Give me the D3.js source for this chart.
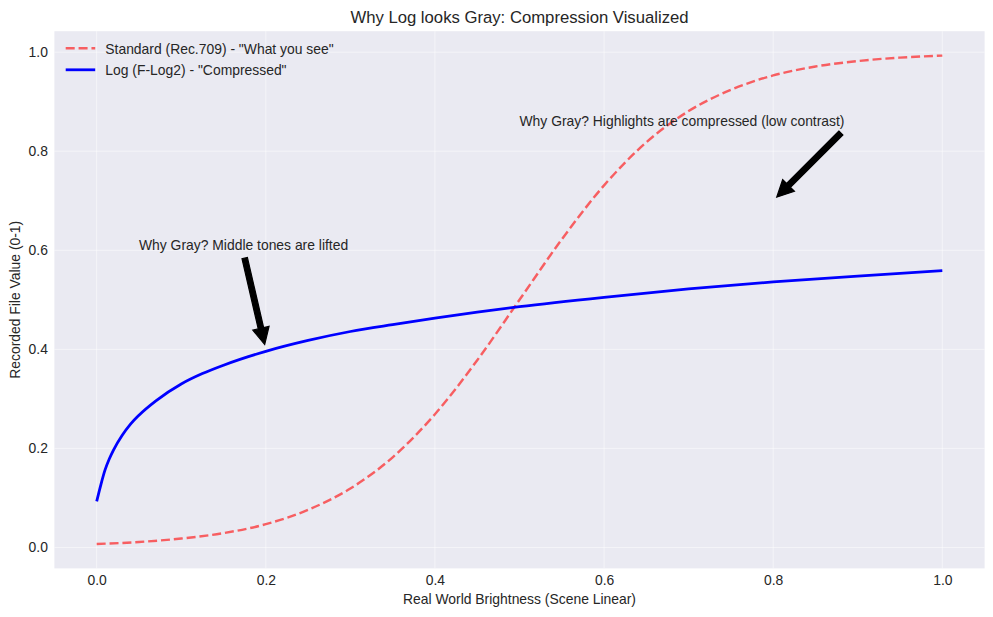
<!DOCTYPE html>
<html>
<head>
<meta charset="utf-8">
<script src="https://cdn.jsdelivr.net/npm/d3@7"></script>
<style>
  body { margin: 0; background: #fff; }
  text { font-family: "Liberation Sans", Arial, sans-serif; fill: #262626; }
</style>
</head>
<body>
<div id="chart"></div>
<script>
// values
const stdX = [0, 0.05, 0.1, 0.15, 0.2, 0.25, 0.3, 0.35, 0.4, 0.45, 0.5,
  0.55, 0.6, 0.65, 0.7, 0.75, 0.8, 0.85, 0.9, 0.95, 1.0];
const stdY = [0.007, 0.011, 0.018, 0.029, 0.047, 0.076, 0.119, 0.182, 0.269, 0.378, 0.5,
  0.622, 0.731, 0.818, 0.881, 0.924, 0.953, 0.971, 0.982, 0.989, 0.993];

const logX = [0, 0.005, 0.01, 0.015, 0.02, 0.03, 0.04, 0.05, 0.07, 0.1, 0.125, 0.15,
  0.2, 0.25, 0.3, 0.35, 0.4, 0.45, 0.5, 0.6, 0.7, 0.8, 0.9, 1.0];
const logY = [0.093, 0.127, 0.157, 0.179, 0.197, 0.226, 0.249, 0.267, 0.296, 0.33, 0.351, 0.368,
  0.396, 0.418, 0.436, 0.45, 0.463, 0.475, 0.486, 0.505, 0.522, 0.536, 0.548, 0.559];

const xTicks = [0, 0.2, 0.4, 0.6, 0.8, 1.0];
const yTicks = [0, 0.2, 0.4, 0.6, 0.8, 1.0];

const seriesNames = ['Standard (Rec.709) - "What you see"', 'Log (F-Log2) - "Compressed"'];

const noteTexts = ["Why Gray? Middle tones are lifted", "Why Gray? Highlights are compressed (low contrast)"];
const noteTextAt = [[0.05, 0.6], [0.5, 0.85]];
const noteArrowTo = [[0.2, 0.4], [0.8, 0.7]];

/* sizing */
const W = 993, H = 617;
const box = { left: 54.4, right: 984.6, top: 31.2, bottom: 568.4 };
const pt = 100 / 72; // px per point

const svg = d3.select("#chart").append("svg")
  .attr("width", W).attr("height", H);

// matplotlib style 5% margins
const pad = (ext) => {
  const m = (ext[1] - ext[0]) * 0.05;
  return [ext[0] - m, ext[1] + m];
};
const xScale = d3.scaleLinear()
  .domain(pad(d3.extent(stdX.concat(logX))))
  .range([box.left, box.right]);
const yScale = d3.scaleLinear()
  .domain(pad(d3.extent(stdY.concat(logY))))
  .range([box.bottom, box.top]);

svg.append("rect")
  .attr("x", box.left).attr("y", box.top)
  .attr("width", box.right - box.left).attr("height", box.bottom - box.top)
  .attr("fill", "#EAEAF2");

/* grid (faint white) */
const grid = svg.append("g").attr("stroke", "#fff").attr("stroke-opacity", 0.5).attr("stroke-width", 1);
grid.selectAll(".vx").data(xTicks).join("line")
  .attr("x1", (d) => xScale(d)).attr("x2", (d) => xScale(d))
  .attr("y1", box.top).attr("y2", box.bottom);
grid.selectAll(".hy").data(yTicks).join("line")
  .attr("y1", (d) => yScale(d)).attr("y2", (d) => yScale(d))
  .attr("x1", box.left).attr("x2", box.right);

/* axes */
const fmt = d3.format(".1f");
const xAxis = d3.axisBottom(xScale).tickValues(xTicks).tickFormat(fmt).tickSize(0).tickPadding(7);
const yAxis = d3.axisLeft(yScale).tickValues(yTicks).tickFormat(fmt).tickSize(0).tickPadding(6.5);

const xAxisDraw = svg.append("g").attr("transform", `translate(0,${box.bottom})`).call(xAxis);
const yAxisDraw = svg.append("g").attr("transform", `translate(${box.left},0)`).call(yAxis);
[xAxisDraw, yAxisDraw].forEach((g) => {
  g.select(".domain").remove();
  g.selectAll("text").style("font-size", "13.9px").attr("fill", "#262626")
    .style("font-family", '"Liberation Sans", Arial, sans-serif');
});

/* lines */
const line = d3.line()
  .x((d) => xScale(d[0]))
  .y((d) => yScale(d[1]))
  .curve(d3.curveMonotoneX);

const stdData = stdX.map((x, i) => [x, stdY[i]]);
const logData = logX.map((x, i) => [x, logY[i]]);

const redStyle = (sel) => sel.attr("stroke", "red").attr("stroke-opacity", 0.6)
  .attr("stroke-width", 1.75 * pt).attr("stroke-dasharray", `${6.475 * pt} ${2.8 * pt}`).attr("fill", "none");
const blueStyle = (sel) => sel.attr("stroke", "blue").attr("stroke-width", 2 * pt).attr("fill", "none");

svg.append("path").datum(stdData).attr("d", line).call(redStyle);
svg.append("path").datum(logData).attr("d", line).call(blueStyle);

/* legend */
const legend = svg.append("g");
[redStyle, blueStyle].forEach((style, i) => {
  const ly = 48.3 + i * 21.5;
  legend.append("line").attr("x1", 65.7).attr("x2", 95.2).attr("y1", ly).attr("y2", ly).call(style);
  legend.append("text").attr("x", 105.3).attr("y", ly + 5.5)
    .style("font-size", "13.9px").text(seriesNames[i]);
});

/* annotations with arrows, YAArrow-like: start from nearest bbox corner */
noteTexts.forEach((t, i) => {
  const tx = xScale(noteTextAt[i][0]), ty = yScale(noteTextAt[i][1]);
  const label = svg.append("text").attr("x", tx).attr("y", ty)
    .style("font-size", "13.9px").text(t);
  const bb = label.node().getBBox();
  const ex = xScale(noteArrowTo[i][0]), ey = yScale(noteArrowTo[i][1]);
  const sx = [bb.x, bb.x + bb.width / 2, bb.x + bb.width].reduce((a, b) => Math.abs(b - ex) < Math.abs(a - ex) ? b : a);
  const sy = [bb.y, bb.y + bb.height / 2, bb.y + bb.height].reduce((a, b) => Math.abs(b - ey) < Math.abs(a - ey) ? b : a);
  const dx = ex - sx, dy = ey - sy, r = Math.hypot(dx, dy);
  const ux = dx / r, uy = dy / r, nx = -uy, ny = ux;
  const shrink = 0.05 * r;
  const a = [sx + ux * shrink, sy + uy * shrink];
  const b = [ex - ux * shrink, ey - uy * shrink];
  const tw = 4 * pt / 2, hw = 12 * pt / 2, hl = 12 * pt;
  const base = [b[0] - ux * hl, b[1] - uy * hl];
  const pts = [
    [a[0] + nx * tw, a[1] + ny * tw],
    [base[0] + nx * tw, base[1] + ny * tw],
    [base[0] + nx * hw, base[1] + ny * hw],
    b,
    [base[0] - nx * hw, base[1] - ny * hw],
    [base[0] - nx * tw, base[1] - ny * tw],
    [a[0] - nx * tw, a[1] - ny * tw]
  ];
  svg.append("path").attr("d", "M" + pts.join("L") + "Z")
    .attr("fill", "black").attr("stroke", "black").attr("stroke-width", 1.2)
    .attr("stroke-linejoin", "miter");
});

/* titles */
const cx = (box.left + box.right) / 2;
svg.append("text").attr("x", cx).attr("y", 22.9).attr("text-anchor", "middle")
  .style("font-size", "16.7px").text("Why Log looks Gray: Compression Visualized");
svg.append("text").attr("x", cx).attr("y", 604.3).attr("text-anchor", "middle")
  .style("font-size", "13.9px").text("Real World Brightness (Scene Linear)");
svg.append("text")
  .attr("transform", `translate(20,${(box.top + box.bottom) / 2}) rotate(-90)`)
  .attr("text-anchor", "middle")
  .style("font-size", "13.9px").text("Recorded File Value (0-1)");
</script>
</body>
</html>
